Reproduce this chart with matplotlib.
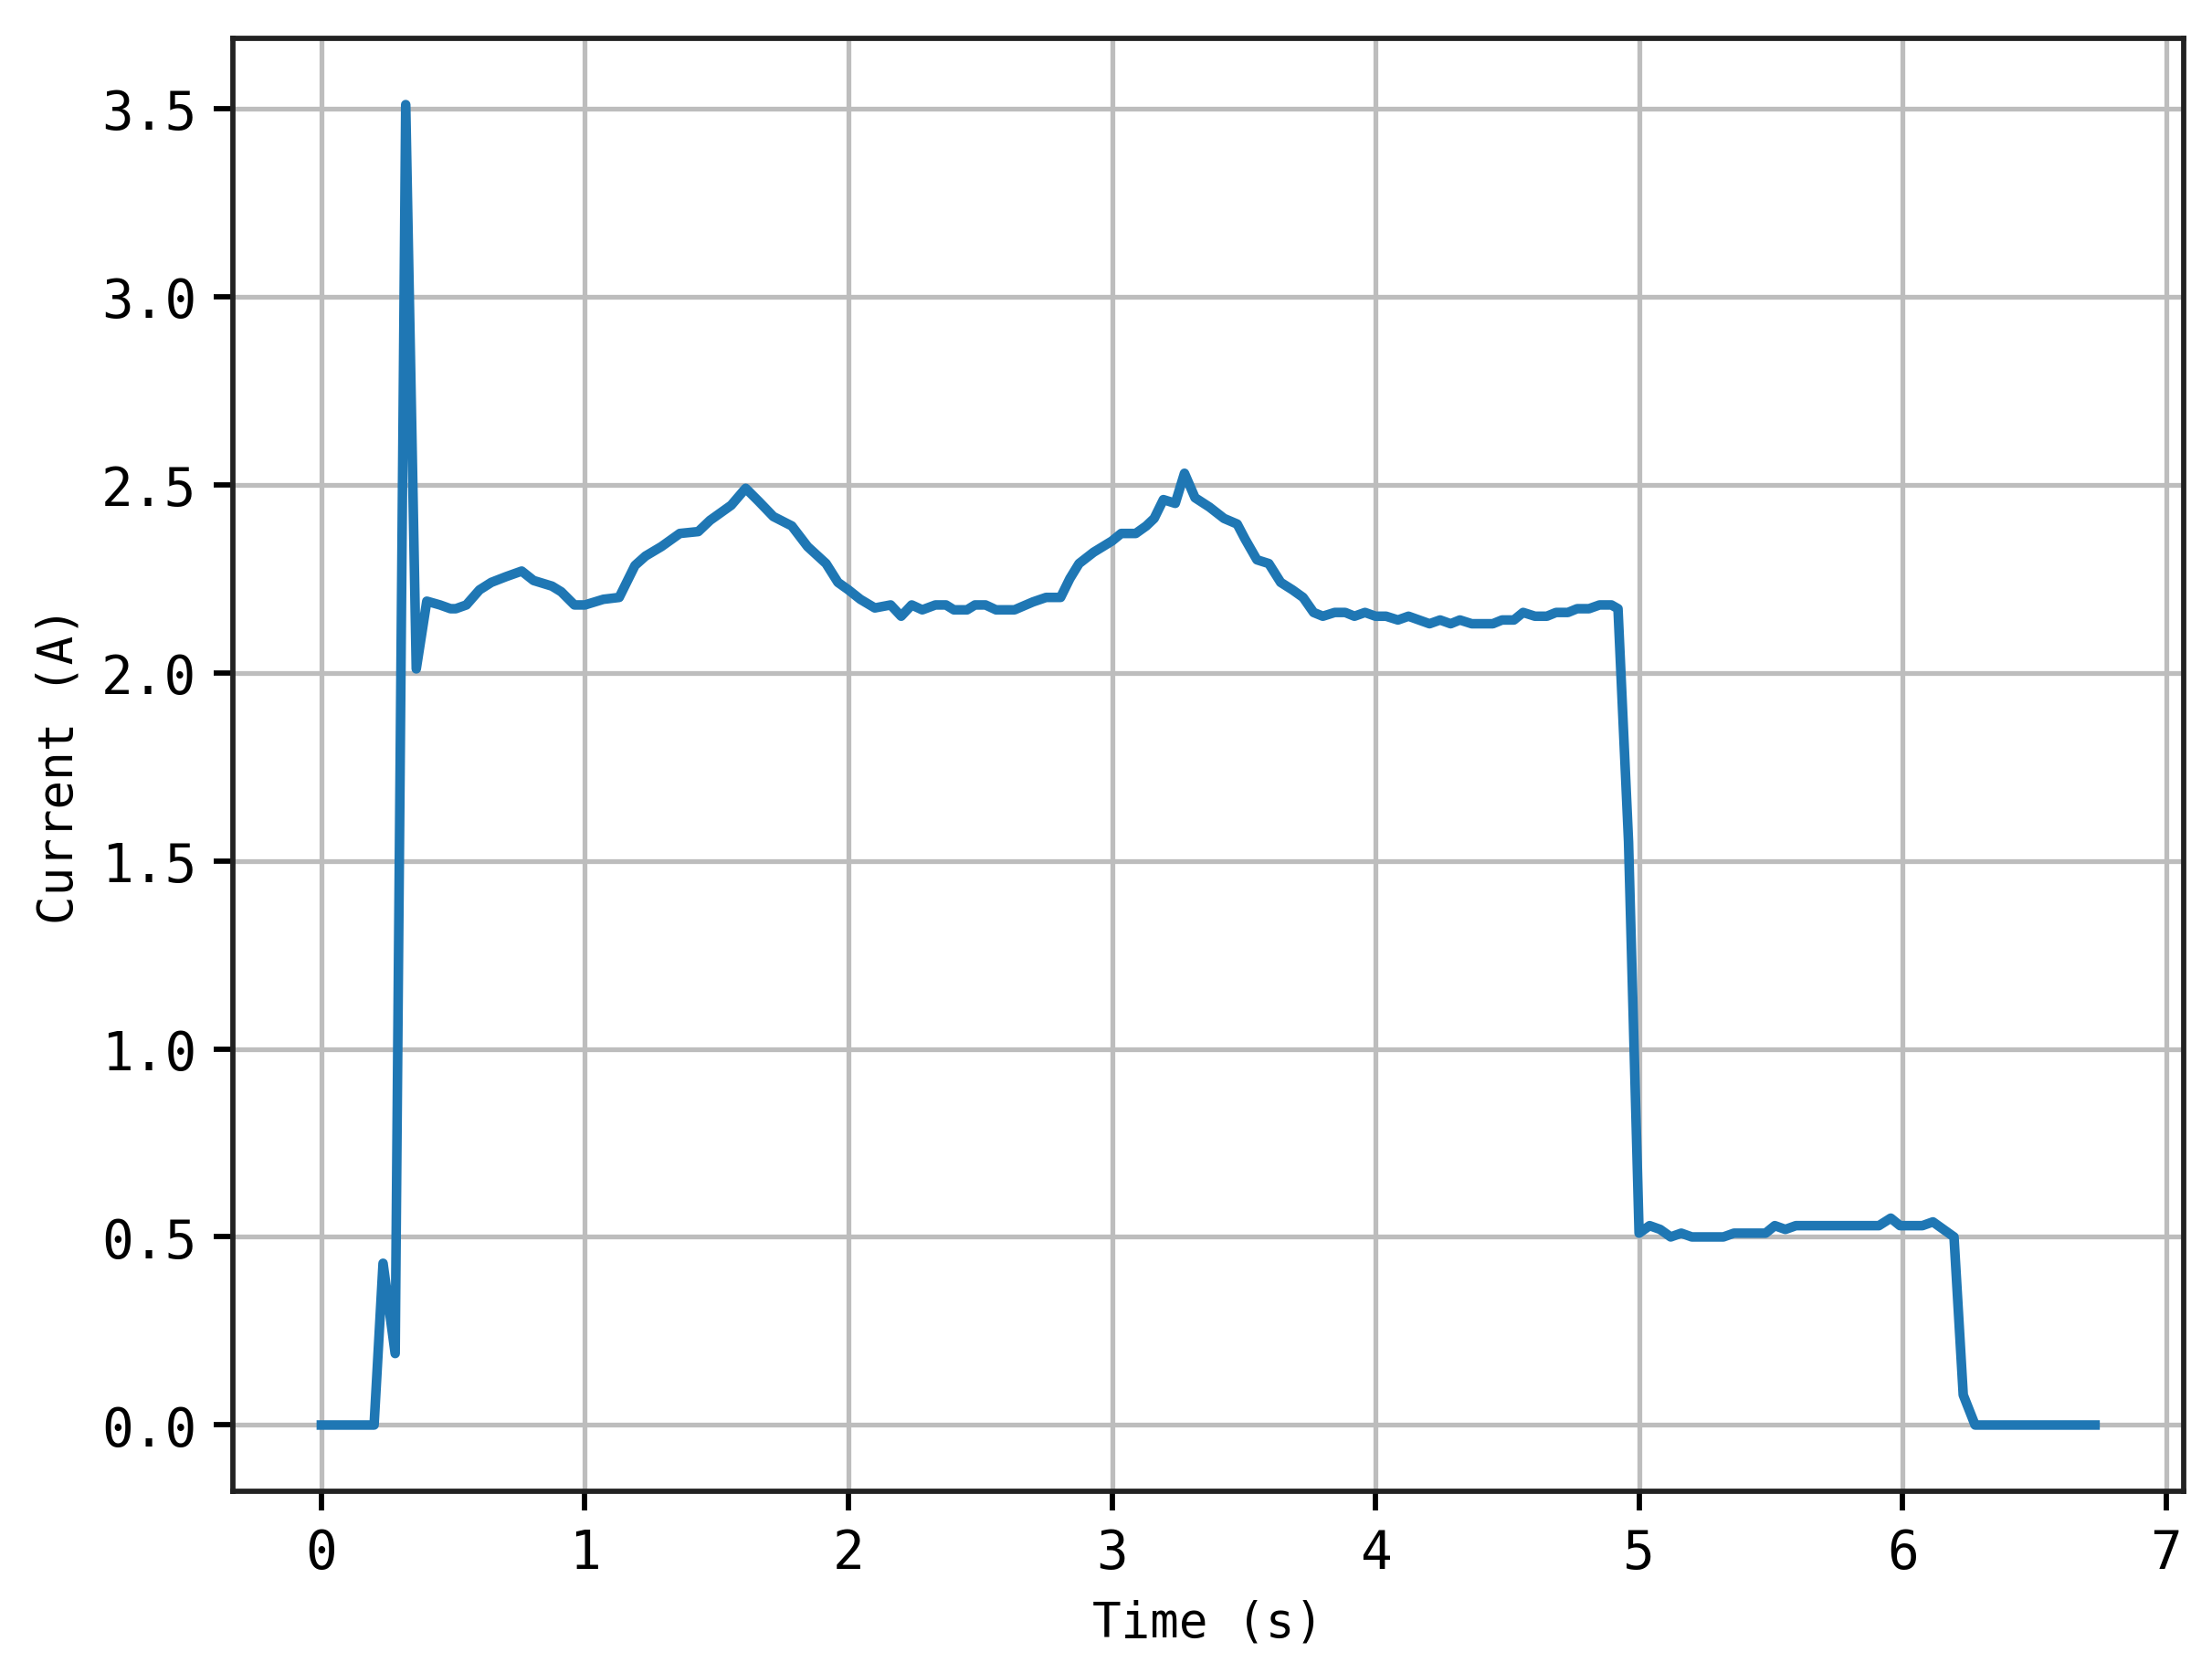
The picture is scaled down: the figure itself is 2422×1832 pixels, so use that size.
import matplotlib
matplotlib.use("Agg")
import matplotlib.pyplot as plt

time_s = [0, 0.2, 0.234, 0.28, 0.32, 0.36, 0.40, 0.45, 0.49, 0.51,
          0.55, 0.60, 0.645, 0.70, 0.76, 0.805, 0.875, 0.91, 0.96, 1.00,
          1.07, 1.13, 1.19, 1.23, 1.29, 1.36, 1.43, 1.475, 1.555, 1.61,
          1.66, 1.715, 1.785, 1.845, 1.915, 1.96, 2.0, 2.045, 2.10, 2.16,
          2.20, 2.24, 2.28, 2.33, 2.37, 2.40, 2.45, 2.48, 2.52, 2.56,
          2.63, 2.70, 2.75, 2.805, 2.84, 2.875, 2.93, 3.0, 3.035, 3.09,
          3.13, 3.16, 3.195, 3.24, 3.275, 3.315, 3.37, 3.425, 3.475, 3.505,
          3.55, 3.595, 3.64, 3.685, 3.725, 3.765, 3.80, 3.845, 3.885, 3.92,
          3.96, 4.0, 4.04, 4.085, 4.125, 4.165, 4.205, 4.245, 4.285, 4.32,
          4.365, 4.445, 4.48, 4.525, 4.56, 4.605, 4.65, 4.685, 4.73, 4.765,
          4.81, 4.85, 4.895, 4.92, 4.96, 5.0, 5.04, 5.08, 5.12, 5.16,
          5.2, 5.32, 5.36, 5.48, 5.515, 5.555, 5.595, 5.91, 5.955, 5.99,
          6.075, 6.115, 6.155, 6.195, 6.23, 6.275, 6.73]

current_a = [0, 0, 0.43, 0.19, 3.51, 2.01, 2.19, 2.18, 2.17, 2.17,
             2.18, 2.22, 2.24, 2.255, 2.27, 2.245, 2.23, 2.215, 2.18, 2.18,
             2.195, 2.20, 2.285, 2.31, 2.335, 2.37, 2.375, 2.405, 2.445, 2.49,
             2.455, 2.415, 2.39, 2.335, 2.29, 2.24, 2.22, 2.195, 2.172, 2.18,
             2.15, 2.18, 2.167, 2.18, 2.18, 2.167, 2.167, 2.18, 2.18, 2.167,
             2.167, 2.188, 2.20, 2.20, 2.25, 2.29, 2.32, 2.35, 2.37, 2.37,
             2.39, 2.41, 2.46, 2.45, 2.53, 2.465, 2.44, 2.41, 2.395, 2.355,
             2.30, 2.29, 2.24, 2.22, 2.20, 2.16, 2.15, 2.16, 2.16, 2.15,
             2.16, 2.15, 2.15, 2.14, 2.15, 2.14, 2.13, 2.14, 2.13, 2.14,
             2.13, 2.13, 2.14, 2.14, 2.16, 2.15, 2.15, 2.16, 2.16, 2.17,
             2.17, 2.18, 2.18, 2.17, 1.55, 0.51, 0.53, 0.52, 0.50, 0.51,
             0.50, 0.50, 0.51, 0.51, 0.53, 0.52, 0.53, 0.53, 0.55, 0.53,
             0.53, 0.54, 0.52, 0.50, 0.08, 0.0, 0.0]

assert len(time_s) == len(current_a)

plt.rcParams["font.family"] = ["DejaVu Sans Mono"]
plt.rcParams["axes.linewidth"] = 1.1
plt.rcParams["xtick.major.width"] = 1.1
plt.rcParams["ytick.major.width"] = 1.1
plt.rcParams["xtick.major.size"] = 4
plt.rcParams["ytick.major.size"] = 4

fig = plt.figure(figsize=(2422 / 378, 1833 / 378), dpi=378)
fig.subplots_adjust(left=0.1052, right=0.9872, bottom=0.1087, top=0.9764)
ax = fig.add_subplot(111)

ax.plot(time_s, current_a, color="#1f77b4", linewidth=2.0)
ax.set_xlabel("Time (s)", fontsize=10)
ax.set_ylabel("Current (A)", fontsize=10)
ax.tick_params(labelsize=11)
for sp in ax.spines.values():
    sp.set_color("#222222")
ax.grid(True, color="#bdbdbd", linewidth=1.0)

fig.savefig("out.png", dpi=378)
